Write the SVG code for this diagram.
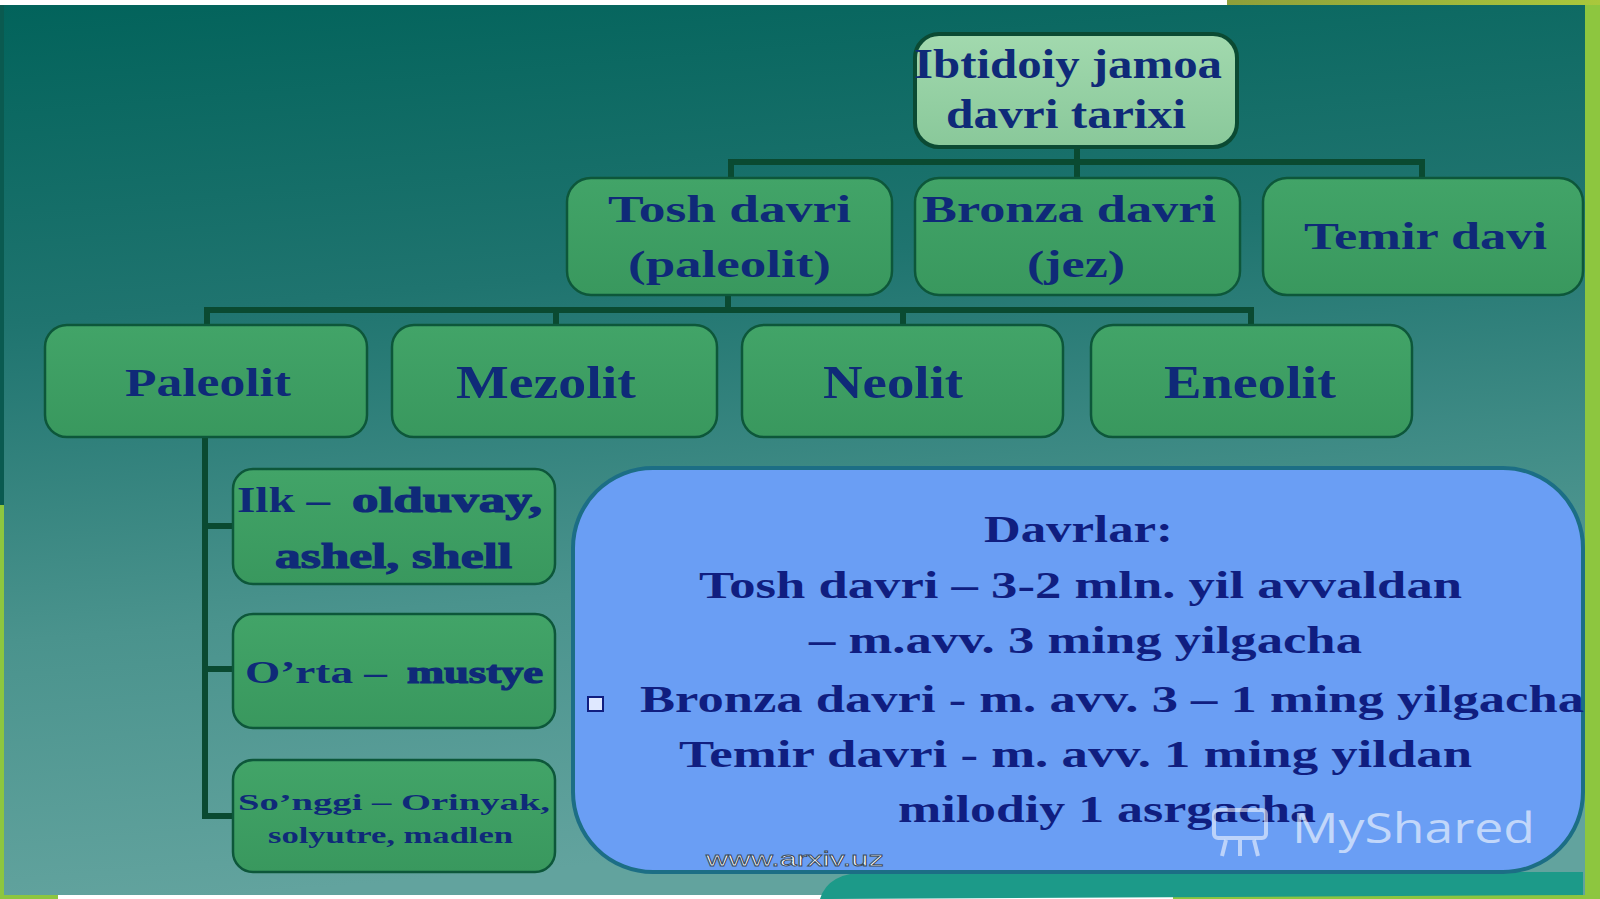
<svg xmlns="http://www.w3.org/2000/svg" width="1600" height="899" viewBox="0 0 1600 899">
<defs>
<linearGradient id="bg" x1="0" y1="0" x2="0.15" y2="1">
<stop offset="0" stop-color="#02635b"/>
<stop offset="0.35" stop-color="#1f746f"/>
<stop offset="0.7" stop-color="#4a938d"/>
<stop offset="1" stop-color="#62a39e"/>
</linearGradient>
<linearGradient id="rootFill" x1="0" y1="0" x2="0" y2="1">
<stop offset="0" stop-color="#a2d9ae"/>
<stop offset="1" stop-color="#89c89a"/>
</linearGradient>
<linearGradient id="boxFill" x1="0" y1="0" x2="0" y2="1">
<stop offset="0" stop-color="#42a468"/>
<stop offset="1" stop-color="#39985e"/>
</linearGradient>
<linearGradient id="topStrip" x1="0" y1="0" x2="1" y2="0">
<stop offset="0" stop-color="#8e9f3a"/>
<stop offset="1" stop-color="#a9c83c"/>
</linearGradient>
</defs>
<style>
.node rect.box{fill:url(#boxFill);stroke:#0d573a;stroke-width:2.5}
.node rect.root{fill:url(#rootFill);stroke:#0b4a33;stroke-width:4}
.t{font-family:"Liberation Serif","Times New Roman",serif;font-weight:bold;fill:#0f2a78}
.bt{font-family:"Liberation Serif","Times New Roman",serif;font-weight:bold;fill:#101e80}
.heavy{stroke:#0f2a78;stroke-width:1.2}
.conn{stroke:#0a4a31;stroke-width:6;fill:none;stroke-linecap:square}
.wm{font-family:"Open Sans","Liberation Sans",sans-serif;fill:#ffffff;fill-opacity:0.6}
</style>
<!-- frame -->
<rect x="0" y="0" width="1600" height="899" fill="#8dc63f"/>
<rect x="0" y="0" width="1227" height="5" fill="#ffffff"/>
<rect x="1227" y="0" width="373" height="5" fill="url(#topStrip)"/>
<rect x="58" y="895" width="1115" height="4" fill="#ffffff"/>
<rect x="4" y="5" width="1581" height="890" fill="url(#bg)"/>
<rect x="0" y="5" width="4" height="500" fill="#0a5a50"/>
<!-- teal band under info box -->
<path d="M820 899 Q828 872 870 872 L1583 872 L1583 895 L830 899 Z" fill="#1c9a89"/>
<g id="connectors">
<line class="conn" x1="1077" y1="147" x2="1077" y2="162"/>
<line class="conn" x1="731" y1="162" x2="1422" y2="162"/>
<line class="conn" x1="731" y1="162" x2="731" y2="178"/>
<line class="conn" x1="1077" y1="162" x2="1077" y2="178"/>
<line class="conn" x1="1422" y1="162" x2="1422" y2="178"/>
<line class="conn" x1="728" y1="295" x2="728" y2="310"/>
<line class="conn" x1="207" y1="310" x2="1251" y2="310"/>
<line class="conn" x1="207" y1="310" x2="207" y2="325"/>
<line class="conn" x1="556" y1="310" x2="556" y2="325"/>
<line class="conn" x1="903" y1="310" x2="903" y2="325"/>
<line class="conn" x1="1251" y1="310" x2="1251" y2="325"/>
<polyline class="conn" points="205,437 205,816 231,816"/>
<line class="conn" x1="205" y1="526" x2="231" y2="526"/>
<line class="conn" x1="205" y1="669" x2="231" y2="669"/>
</g>
<g id="root" class="node">
<rect class="root" x="915" y="34" width="322" height="113" rx="24"/>
<text class="t" x="914" y="78" font-size="42" textLength="308" lengthAdjust="spacingAndGlyphs">Ibtidoiy jamoa</text>
<text class="t" x="946" y="128" font-size="42" textLength="240" lengthAdjust="spacingAndGlyphs">davri tarixi</text>
</g>
<g id="tosh" class="node">
<rect class="box" x="567" y="178" width="325" height="117" rx="24"/>
<text class="t" x="608" y="222" font-size="38" textLength="243" lengthAdjust="spacingAndGlyphs">Tosh davri</text>
<text class="t" x="628" y="277" font-size="38" textLength="203" lengthAdjust="spacingAndGlyphs">(paleolit)</text>
</g>
<g id="bronza" class="node">
<rect class="box" x="915" y="178" width="325" height="117" rx="24"/>
<text class="t" x="922" y="222" font-size="38" textLength="294" lengthAdjust="spacingAndGlyphs">Bronza davri</text>
<text class="t" x="1027" y="277" font-size="38" textLength="98" lengthAdjust="spacingAndGlyphs">(jez)</text>
</g>
<g id="temir" class="node">
<rect class="box" x="1263" y="178" width="320" height="117" rx="24"/>
<text class="t" x="1304" y="249" font-size="38" textLength="243" lengthAdjust="spacingAndGlyphs">Temir davi</text>
</g>
<g id="paleolit" class="node">
<rect class="box" x="45" y="325" width="322" height="112" rx="22"/>
<text class="t" x="125" y="396" font-size="39" textLength="166" lengthAdjust="spacingAndGlyphs">Paleolit</text>
</g>
<g id="mezolit" class="node">
<rect class="box" x="392" y="325" width="325" height="112" rx="22"/>
<text class="t" x="456" y="398" font-size="46" textLength="180" lengthAdjust="spacingAndGlyphs">Mezolit</text>
</g>
<g id="neolit" class="node">
<rect class="box" x="742" y="325" width="321" height="112" rx="22"/>
<text class="t" x="823" y="398" font-size="46" textLength="140" lengthAdjust="spacingAndGlyphs">Neolit</text>
</g>
<g id="eneolit" class="node">
<rect class="box" x="1091" y="325" width="321" height="112" rx="22"/>
<text class="t" x="1164" y="398" font-size="46" textLength="172" lengthAdjust="spacingAndGlyphs">Eneolit</text>
</g>
<g id="ilk" class="node">
<rect class="box" x="233" y="469" width="322" height="115" rx="20"/>
<text class="t" x="237" y="512" font-size="36" textLength="93" lengthAdjust="spacingAndGlyphs">Ilk –</text>
<text class="t heavy" x="352" y="512" font-size="36" textLength="190" lengthAdjust="spacingAndGlyphs">olduvay,</text>
<text class="t heavy" x="275" y="568" font-size="36" textLength="237" lengthAdjust="spacingAndGlyphs">ashel, shell</text>
</g>
<g id="orta" class="node">
<rect class="box" x="233" y="614" width="322" height="114" rx="20"/>
<text class="t" x="245" y="683" font-size="31" textLength="142" lengthAdjust="spacingAndGlyphs">O’rta –</text>
<text class="t heavy" x="407" y="683" font-size="31" textLength="136" lengthAdjust="spacingAndGlyphs">mustye</text>
</g>
<g id="songgi" class="node">
<rect class="box" x="233" y="760" width="322" height="112" rx="20"/>
<text class="t" x="238" y="810" font-size="24" textLength="312" lengthAdjust="spacingAndGlyphs">So’nggi – Orinyak,</text>
<text class="t" x="268" y="843" font-size="24" textLength="245" lengthAdjust="spacingAndGlyphs">solyutre, madlen</text>
</g>
<g id="davrlar" class="node">
<rect x="573" y="468" width="1010" height="404" rx="80" fill="#6a9ef4" stroke="#1c6e85" stroke-width="4"/>
<text class="bt" x="984" y="542" font-size="38" textLength="189" lengthAdjust="spacingAndGlyphs">Davrlar:</text>
<text class="bt" x="699" y="598" font-size="38" textLength="763" lengthAdjust="spacingAndGlyphs">Tosh davri – 3-2 mln. yil avvaldan</text>
<text class="bt" x="809" y="653" font-size="38" textLength="553" lengthAdjust="spacingAndGlyphs">– m.avv. 3 ming yilgacha</text>
<rect x="588" y="697" width="15" height="14" fill="#dfe8ff" stroke="#101e80" stroke-width="2"/>
<text class="bt" x="640" y="712" font-size="38" textLength="944" lengthAdjust="spacingAndGlyphs">Bronza davri - m. avv. 3 – 1 ming yilgacha</text>
<text class="bt" x="679" y="767" font-size="38" textLength="793" lengthAdjust="spacingAndGlyphs">Temir davri - m. avv. 1 ming yildan</text>
<text class="bt" x="898" y="822" font-size="38" textLength="418" lengthAdjust="spacingAndGlyphs">milodiy 1 asrgacha</text>
</g>
<g id="watermarks">
<g fill="none" stroke="#ffffff" stroke-opacity="0.55" stroke-width="4">
<rect x="1214" y="810" width="52" height="28" rx="4"/>
<line x1="1226" y1="840" x2="1222" y2="856"/>
<line x1="1240" y1="840" x2="1240" y2="856"/>
<line x1="1254" y1="840" x2="1258" y2="856"/>
</g>
<text class="wm" x="1292" y="843" font-size="42" textLength="243" lengthAdjust="spacingAndGlyphs">MyShared</text>
<text x="706" y="866" font-family="Liberation Sans, Arial, sans-serif" font-size="21" fill="#ffffff" stroke="#3a4a5a" stroke-width="0.8" textLength="178" lengthAdjust="spacingAndGlyphs">www.arxiv.uz</text>
</g>
</svg>
